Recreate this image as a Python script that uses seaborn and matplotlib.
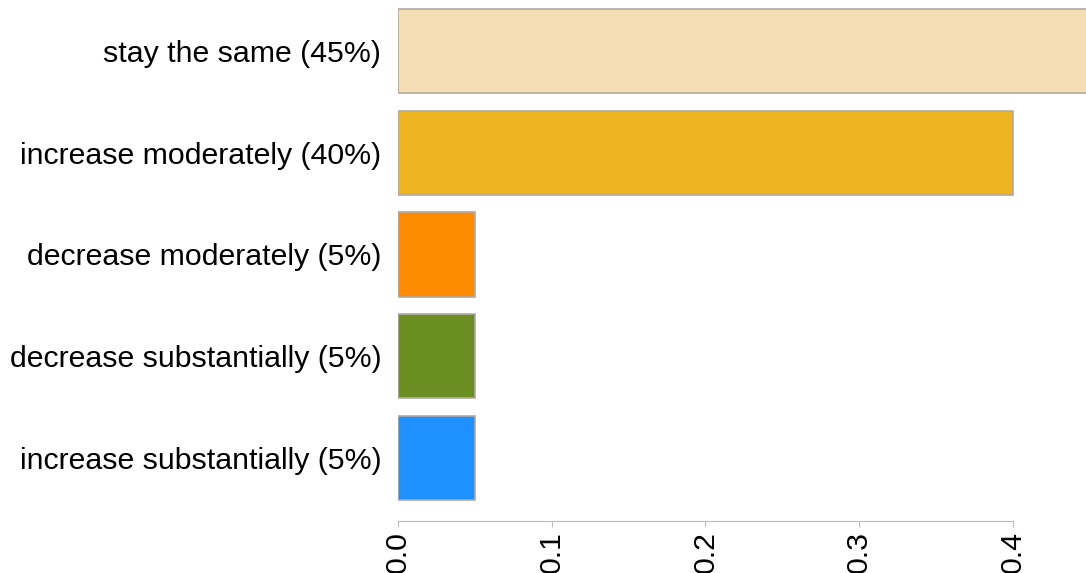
import matplotlib
matplotlib.use("Agg")
import matplotlib.pyplot as plt
import seaborn as sns
import pandas as pd

categories = ["stay the same (45%)", "increase moderately (40%)", "decrease moderately (5%)",
              "decrease substantially (5%)", "increase substantially (5%)"]
values = [0.45, 0.40, 0.05, 0.05, 0.05]
colors = ["#F5DEB3", "#EEB422", "#FF8C00", "#6B8E23", "#1E90FF"]
xticks = [0.0, 0.1, 0.2, 0.3, 0.4]

sns.set_style("white")
plt.rcParams["font.family"] = ["Liberation Sans", "DejaVu Sans"]

df = pd.DataFrame({"cat": categories, "val": values})
fig = plt.figure(figsize=(10.86, 5.73), dpi=100)
ax = fig.add_axes([398/1086, 52/573, 1 - 398/1086, 521/573])
sns.barplot(data=df, x="val", y="cat", hue="cat", palette=colors, orient="h",
            width=0.83, edgecolor="#b0aaa2", linewidth=1.2, legend=False, ax=ax, saturation=1)
ax.set_xlim(0, 0.4475)
ax.set_ylim(4.619, -0.501)
for s in ["top", "right", "left"]:
    ax.spines[s].set_visible(False)
ax.spines["bottom"].set_color("#bbbbbb")
ax.spines["bottom"].set_bounds(0, 0.4)
ax.set_xticks(xticks)
ax.set_xticklabels([f"{t:.1f}" for t in xticks], rotation=90, fontsize=21.8, color="black")
ax.tick_params(axis="x", length=4, color="#bbbbbb", pad=3, bottom=True)
ax.tick_params(axis="y", length=0, pad=12, labelsize=21.8, labelcolor="black")
ax.set_xlabel("")
ax.set_ylabel("")
fig.savefig("out.png", dpi=100)
